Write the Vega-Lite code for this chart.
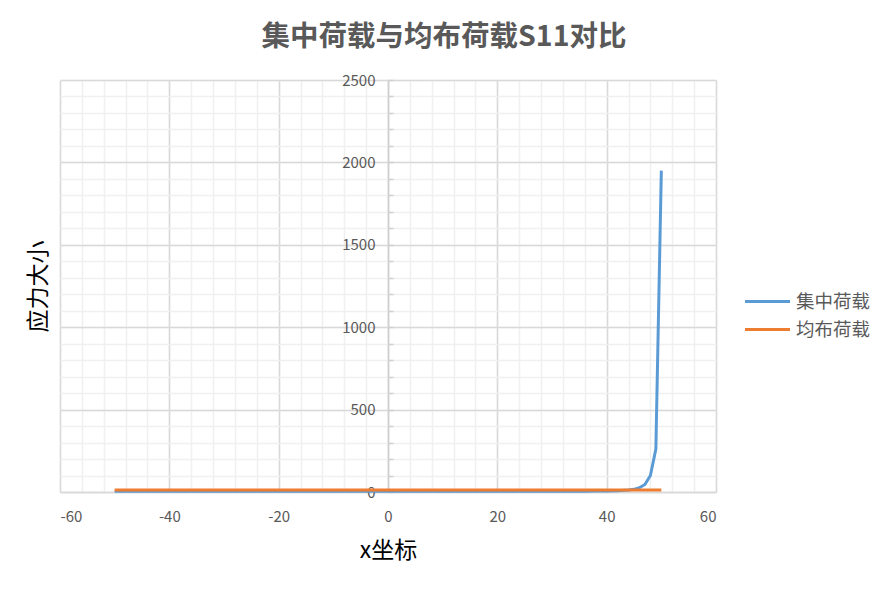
{
  "$schema": "https://vega.github.io/schema/vega-lite/v6.json",
  "width": 656,
  "height": 412,
  "autosize": {"type": "none"},
  "padding": {"left": 60, "top": 80, "right": 172, "bottom": 101},
  "background": "white",
  "title": {
    "text": "集中荷载与均布荷载S11对比",
    "font": "Noto Sans CJK SC",
    "fontSize": 28.5,
    "fontWeight": "bold",
    "color": "#595959",
    "anchor": "middle",
    "dx": 56,
    "offset": 22
  },
  "config": {
    "view": {"stroke": null},
    "axis": {"labelFont": "Noto Sans CJK SC", "titleFont": "Noto Sans CJK SC"},
    "legend": {"labelFont": "Noto Sans CJK SC"}
  },
  "data": {
    "values": [
      {"x": -50, "v": 5, "s": "集中荷载"}, {"x": -48, "v": 5, "s": "集中荷载"}, {"x": -46, "v": 5, "s": "集中荷载"},
      {"x": -44, "v": 5, "s": "集中荷载"}, {"x": -42, "v": 5, "s": "集中荷载"}, {"x": -40, "v": 5, "s": "集中荷载"},
      {"x": -38, "v": 5, "s": "集中荷载"}, {"x": -36, "v": 5, "s": "集中荷载"}, {"x": -34, "v": 5, "s": "集中荷载"},
      {"x": -32, "v": 5, "s": "集中荷载"}, {"x": -30, "v": 5, "s": "集中荷载"}, {"x": -28, "v": 5, "s": "集中荷载"},
      {"x": -26, "v": 5, "s": "集中荷载"}, {"x": -24, "v": 5, "s": "集中荷载"}, {"x": -22, "v": 5, "s": "集中荷载"},
      {"x": -20, "v": 5, "s": "集中荷载"}, {"x": -18, "v": 5, "s": "集中荷载"}, {"x": -16, "v": 5, "s": "集中荷载"},
      {"x": -14, "v": 5, "s": "集中荷载"}, {"x": -12, "v": 5, "s": "集中荷载"}, {"x": -10, "v": 5, "s": "集中荷载"},
      {"x": -8, "v": 5, "s": "集中荷载"}, {"x": -6, "v": 5, "s": "集中荷载"}, {"x": -4, "v": 5, "s": "集中荷载"},
      {"x": -2, "v": 5, "s": "集中荷载"}, {"x": 0, "v": 5, "s": "集中荷载"}, {"x": 2, "v": 5, "s": "集中荷载"},
      {"x": 4, "v": 5, "s": "集中荷载"}, {"x": 6, "v": 5, "s": "集中荷载"}, {"x": 8, "v": 5, "s": "集中荷载"},
      {"x": 10, "v": 5, "s": "集中荷载"}, {"x": 12, "v": 5, "s": "集中荷载"}, {"x": 14, "v": 5, "s": "集中荷载"},
      {"x": 16, "v": 5, "s": "集中荷载"}, {"x": 18, "v": 5, "s": "集中荷载"}, {"x": 20, "v": 5, "s": "集中荷载"},
      {"x": 22, "v": 5, "s": "集中荷载"}, {"x": 24, "v": 5, "s": "集中荷载"}, {"x": 26, "v": 5, "s": "集中荷载"},
      {"x": 28, "v": 5, "s": "集中荷载"}, {"x": 30, "v": 5, "s": "集中荷载"}, {"x": 32, "v": 5, "s": "集中荷载"},
      {"x": 34, "v": 5, "s": "集中荷载"}, {"x": 36, "v": 5, "s": "集中荷载"}, {"x": 38, "v": 6, "s": "集中荷载"},
      {"x": 40, "v": 6, "s": "集中荷载"}, {"x": 42, "v": 8, "s": "集中荷载"}, {"x": 44, "v": 12, "s": "集中荷载"},
      {"x": 45, "v": 16, "s": "集中荷载"}, {"x": 46, "v": 26, "s": "集中荷载"}, {"x": 47, "v": 46, "s": "集中荷载"},
      {"x": 48, "v": 100, "s": "集中荷载"}, {"x": 49, "v": 260, "s": "集中荷载"}, {"x": 50, "v": 1950, "s": "集中荷载"},
      {"x": -50, "v": 12, "s": "均布荷载"}, {"x": -48, "v": 12, "s": "均布荷载"}, {"x": -46, "v": 12, "s": "均布荷载"},
      {"x": -44, "v": 12, "s": "均布荷载"}, {"x": -42, "v": 12, "s": "均布荷载"}, {"x": -40, "v": 12, "s": "均布荷载"},
      {"x": -38, "v": 12, "s": "均布荷载"}, {"x": -36, "v": 12, "s": "均布荷载"}, {"x": -34, "v": 12, "s": "均布荷载"},
      {"x": -32, "v": 12, "s": "均布荷载"}, {"x": -30, "v": 12, "s": "均布荷载"}, {"x": -28, "v": 12, "s": "均布荷载"},
      {"x": -26, "v": 12, "s": "均布荷载"}, {"x": -24, "v": 12, "s": "均布荷载"}, {"x": -22, "v": 12, "s": "均布荷载"},
      {"x": -20, "v": 12, "s": "均布荷载"}, {"x": -18, "v": 12, "s": "均布荷载"}, {"x": -16, "v": 12, "s": "均布荷载"},
      {"x": -14, "v": 12, "s": "均布荷载"}, {"x": -12, "v": 12, "s": "均布荷载"}, {"x": -10, "v": 12, "s": "均布荷载"},
      {"x": -8, "v": 12, "s": "均布荷载"}, {"x": -6, "v": 12, "s": "均布荷载"}, {"x": -4, "v": 12, "s": "均布荷载"},
      {"x": -2, "v": 12, "s": "均布荷载"}, {"x": 0, "v": 12, "s": "均布荷载"}, {"x": 2, "v": 12, "s": "均布荷载"},
      {"x": 4, "v": 12, "s": "均布荷载"}, {"x": 6, "v": 12, "s": "均布荷载"}, {"x": 8, "v": 12, "s": "均布荷载"},
      {"x": 10, "v": 12, "s": "均布荷载"}, {"x": 12, "v": 12, "s": "均布荷载"}, {"x": 14, "v": 12, "s": "均布荷载"},
      {"x": 16, "v": 12, "s": "均布荷载"}, {"x": 18, "v": 12, "s": "均布荷载"}, {"x": 20, "v": 12, "s": "均布荷载"},
      {"x": 22, "v": 12, "s": "均布荷载"}, {"x": 24, "v": 12, "s": "均布荷载"}, {"x": 26, "v": 12, "s": "均布荷载"},
      {"x": 28, "v": 12, "s": "均布荷载"}, {"x": 30, "v": 12, "s": "均布荷载"}, {"x": 32, "v": 12, "s": "均布荷载"},
      {"x": 34, "v": 12, "s": "均布荷载"}, {"x": 36, "v": 12, "s": "均布荷载"}, {"x": 38, "v": 12, "s": "均布荷载"},
      {"x": 40, "v": 12, "s": "均布荷载"}, {"x": 42, "v": 12, "s": "均布荷载"}, {"x": 44, "v": 12, "s": "均布荷载"},
      {"x": 46, "v": 12, "s": "均布荷载"}, {"x": 48, "v": 12, "s": "均布荷载"}, {"x": 50, "v": 12, "s": "均布荷载"}
    ]
  },
  "layer": [
    {
      "mark": {"type": "line", "opacity": 0},
      "encoding": {
        "x": {
          "field": "x", "type": "quantitative",
          "scale": {"domain": [-60, 60], "nice": false, "zero": false},
          "axis": {
            "orient": "bottom", "title": null, "labels": false, "ticks": false, "domain": false,
            "grid": true, "gridColor": "#f0f0f0", "gridWidth": 1.5,
            "values": [-60, -56, -52, -48, -44, -40, -36, -32, -28, -24, -20, -16, -12, -8, -4, 0, 4, 8, 12, 16, 20, 24, 28, 32, 36, 40, 44, 48, 52, 56, 60]
          }
        },
        "y": {
          "field": "v", "type": "quantitative",
          "scale": {"domain": [0, 2500], "nice": false},
          "axis": {
            "orient": "left", "title": null, "labels": false, "ticks": false, "domain": false,
            "grid": true, "gridColor": "#f0f0f0", "gridWidth": 1.5,
            "values": [0, 100, 200, 300, 400, 500, 600, 700, 800, 900, 1000, 1100, 1200, 1300, 1400, 1500, 1600, 1700, 1800, 1900, 2000, 2100, 2200, 2300, 2400, 2500]
          }
        },
        "detail": {"field": "s"}
      }
    },
    {
      "mark": {"type": "line", "opacity": 0},
      "encoding": {
        "x": {
          "field": "x", "type": "quantitative",
          "axis": {
            "orient": "bottom", "title": null, "labels": false, "ticks": false, "domain": false,
            "grid": true, "gridColor": "#d9d9d9", "gridWidth": 1.5,
            "values": [-60, -40, -20, 0, 20, 40, 60]
          }
        },
        "y": {
          "field": "v", "type": "quantitative",
          "axis": {
            "orient": "left", "title": null, "labels": false, "ticks": false, "domain": false,
            "grid": true, "gridColor": "#d9d9d9", "gridWidth": 1.5,
            "values": [0, 500, 1000, 1500, 2000, 2500]
          }
        },
        "detail": {"field": "s"}
      }
    },
    {
      "mark": {"type": "line", "opacity": 0},
      "encoding": {
        "x": {"field": "x", "type": "quantitative", "axis": null},
        "y": {
          "field": "v", "type": "quantitative",
          "axis": {
            "orient": "right", "offset": -328, "title": null, "labels": false, "domain": false,
            "grid": false, "ticks": true, "tickSize": 5, "tickColor": "#d0d0d0", "tickWidth": 1.5,
            "values": [0, 100, 200, 300, 400, 500, 600, 700, 800, 900, 1000, 1100, 1200, 1300, 1400, 1500, 1600, 1700, 1800, 1900, 2000, 2100, 2200, 2300, 2400, 2500]
          }
        },
        "detail": {"field": "s"}
      }
    },
    {
      "mark": {"type": "line", "strokeWidth": 3},
      "encoding": {
        "x": {
          "field": "x", "type": "quantitative",
          "axis": {
            "orient": "bottom", "grid": false, "ticks": false, "tickSize": 0,
            "domain": true, "domainColor": "#d9d9d9", "domainWidth": 1.5,
            "values": [-60, -40, -20, 0, 20, 40, 60],
            "labelExpr": "'' + datum.value",
            "labelFontSize": 15, "labelColor": "#595959", "labelPadding": 17,
            "title": "x坐标", "titleFontSize": 23, "titleFontWeight": "normal", "titleColor": "#000000",
            "titleBaseline": "middle", "titleY": 58
          }
        },
        "y": {
          "field": "v", "type": "quantitative",
          "axis": {
            "orient": "left", "offset": -328, "grid": false, "ticks": false, "tickSize": 0,
            "domain": true, "domainColor": "#d0d0d0", "domainWidth": 1.5,
            "values": [0, 500, 1000, 1500, 2000, 2500],
            "labelExpr": "'' + datum.value",
            "labelFontSize": 15, "labelColor": "#595959", "labelPadding": 13,
            "title": "应力大小", "titleFontSize": 23, "titleFontWeight": "normal", "titleColor": "#000000",
            "titleAngle": 270, "titleAlign": "center", "titleBaseline": "middle",
            "titleX": -350, "titleY": 206
          }
        },
        "color": {
          "field": "s", "type": "nominal",
          "scale": {"domain": ["集中荷载", "均布荷载"], "range": ["#5B9BD5", "#ED7D31"]},
          "legend": {
            "title": null, "orient": "none", "legendX": 684, "legendY": 205,
            "symbolType": "M-1.5,0H1.5", "symbolSize": 900, "symbolStrokeWidth": 3,
            "symbolOffset": 7, "labelOffset": 12,
            "labelFontSize": 18.5, "labelColor": "#595959"
          }
        }
      }
    }
  ],
  "resolve": {"axis": {"x": "independent", "y": "independent"}}
}
